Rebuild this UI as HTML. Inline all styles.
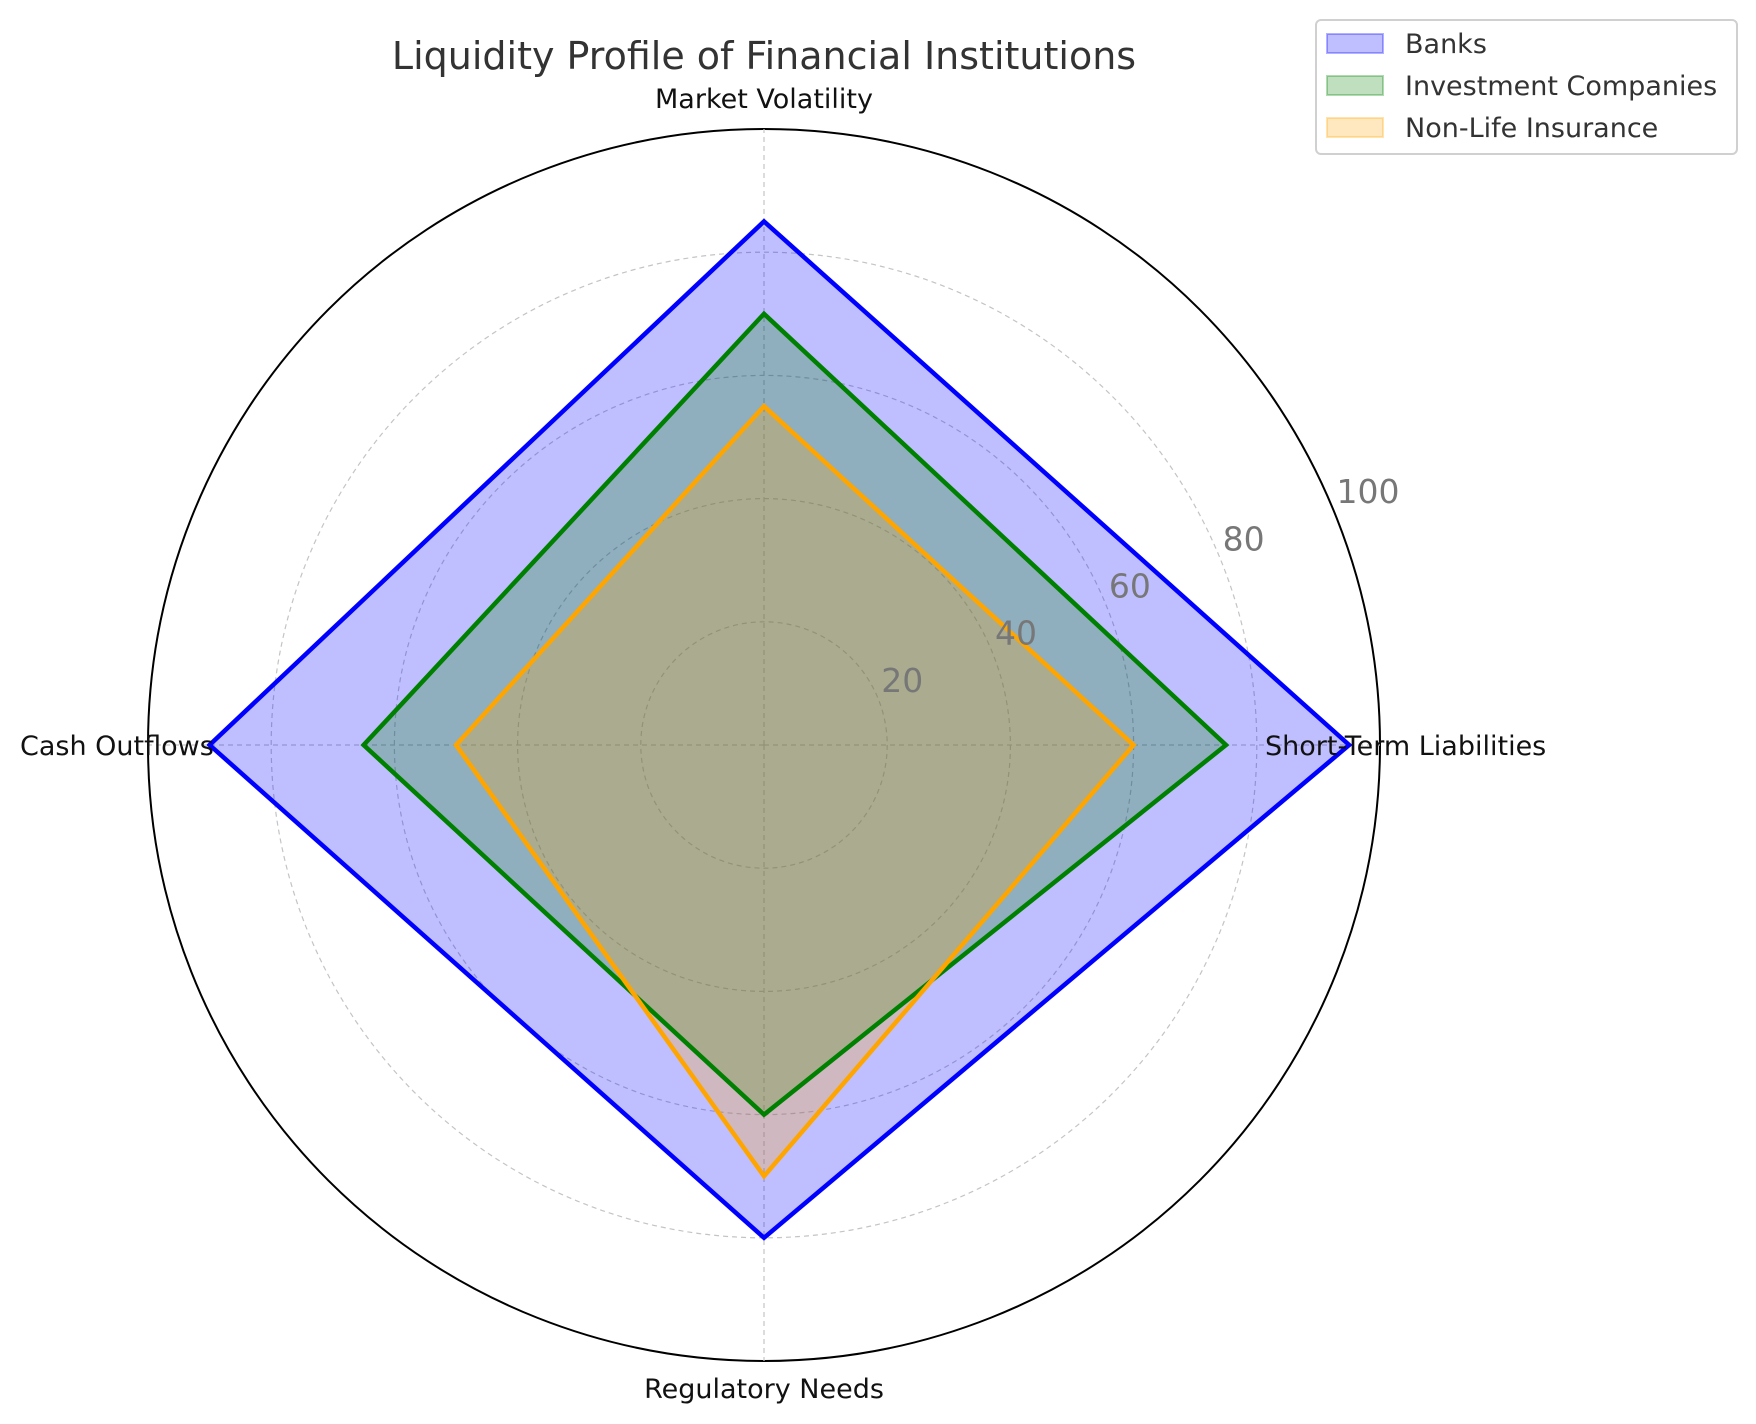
<!DOCTYPE html>
<html><head><meta charset="utf-8"><style>
body{margin:0;background:#fff}
svg{display:block;font-family:"DejaVu Sans","Liberation Sans",sans-serif}
</style></head><body>
<svg id="chart" width="1756" height="1424" viewBox="0 0 1756 1424" xmlns="http://www.w3.org/2000/svg">
<text x="764" y="69" font-size="38" fill="#333" text-anchor="middle">Liquidity Profile of Financial Institutions</text>
<g id="grid"></g>
<g id="series"></g>
<g id="labels"></g>
<g>
<rect x="1316" y="20" width="421" height="134" rx="5" fill="#fff" stroke="#d0d0d0" stroke-width="2"/>
<g><rect x="1327" y="34" width="56" height="19" fill="rgba(0,0,255,0.25)" stroke="rgba(0,0,255,0.3)" stroke-width="2"/><text x="1405" y="53" font-size="27" fill="#333">Banks</text></g>
<g><rect x="1327" y="76" width="56" height="19" fill="rgba(0,128,0,0.25)" stroke="rgba(0,128,0,0.3)" stroke-width="2"/><text x="1405" y="95" font-size="27" fill="#333">Investment Companies</text></g>
<g><rect x="1327" y="118" width="56" height="19" fill="rgba(255,165,0,0.25)" stroke="rgba(255,165,0,0.3)" stroke-width="2"/><text x="1405" y="137" font-size="27" fill="#333">Non-Life Insurance</text></g>
</g>
</svg>
<script>
const categories = ["Short-Term Liabilities","Market Volatility","Cash Outflows","Regulatory Needs"];
const banks = [95, 85, 90, 80];
const investment = [75, 70, 65, 60];
const nonLife = [60, 55, 50, 70];
const rTicks = [20, 40, 60, 80, 100];
const rMax = 100;

const NS = "http://www.w3.org/2000/svg";
const cx = 764, cy = 745, R = 616;
function rScale(v){ return v / rMax * R; }
function ang(i){ return i * 2 * Math.PI / categories.length; }
function pt(i, v){ const a = ang(i), r = rScale(v); return [cx + r*Math.cos(a), cy - r*Math.sin(a)]; }
function mk(tag, attrs, parent){ const e = document.createElementNS(NS, tag); for (const k in attrs) e.setAttribute(k, attrs[k]); parent.appendChild(e); return e; }

const grid = document.getElementById('grid');
rTicks.forEach(t => {
  const c = mk('circle', {cx: cx, cy: cy, r: rScale(t), fill: 'none', stroke: t === rMax ? '#000' : '#c4c4c4', 'stroke-width': t === rMax ? 2 : 1.2, 'stroke-dasharray': t === rMax ? '' : '5,4'}, grid);
  
  
});
categories.forEach((c, i) => {
  const p = pt(i, rMax);
  const l = mk('line', {x1: cx, y1: cy, x2: p[0], y2: p[1], stroke: '#c4c4c4', 'stroke-width': 1.2, 'stroke-dasharray': '5,4'}, grid);
  
  
});

const seriesList = [
  {name: 'banks', vals: banks, color: '0,0,255', line: 'blue'},
  {name: 'investment-companies', vals: investment, color: '0,128,0', line: 'green'},
  {name: 'non-life-insurance', vals: nonLife, color: '255,165,0', line: 'orange'}
];
const sg = document.getElementById('series');
seriesList.forEach(s => {
  const pts = s.vals.map((v, i) => pt(i, v).join(',')).join(' ');
  const f = mk('polygon', {points: pts, fill: 'rgba(' + s.color + ',0.25)', stroke: 'none'}, sg);
  
  
});
seriesList.forEach(s => {
  const pts = s.vals.map((v, i) => pt(i, v).join(',')).join(' ');
  const l = mk('polygon', {points: pts, fill: 'none', stroke: s.line, 'stroke-width': 4.5, 'stroke-linejoin': 'miter'}, sg);
  
  
});

const lg = document.getElementById('labels');
const labelPos = [
  {x: 1265, y: 755, a: 'start'},
  {x: 764, y: 108, a: 'middle'},
  {x: 20, y: 755, a: 'start'},
  {x: 764, y: 1398, a: 'middle'}
];
categories.forEach((c, i) => {
  const t = mk('text', {x: labelPos[i].x, y: labelPos[i].y, 'font-size': 27, fill: '#111', 'text-anchor': labelPos[i].a}, lg);
  t.textContent = c;
  
  
});
rTicks.forEach(t => {
  const a = 22.5 * Math.PI / 180, r = rScale(t) + 8;
  const e = mk('text', {x: cx + r*Math.cos(a) - 4, y: cy - r*Math.sin(a) - 3, 'font-size': 33, fill: '#777'}, lg);
  e.textContent = t;
  
  
});
</script>
</body></html>
